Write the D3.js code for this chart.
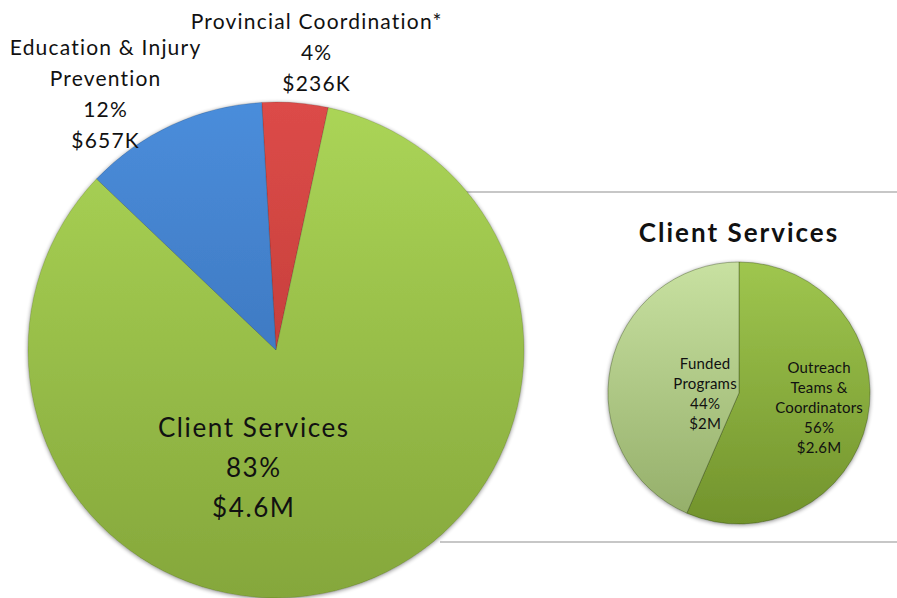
<!DOCTYPE html>
<html>
<head>
<meta charset="utf-8">
<script src="https://cdn.jsdelivr.net/npm/d3@7/dist/d3.min.js"></script>
<style>
  html, body { margin: 0; padding: 0; background: #fff; }
  svg { display: block; font-family: Lato, "Open Sans", sans-serif; }
</style>
</head>
<body>
<svg id="chart" width="897" height="598"></svg>
<script>
// Budget breakdown (values in $K)
const mainCategories = ["Provincial Coordination*", "Client Services", "Education & Injury Prevention"];
const mainValues = [236, 4600, 657];
const mainPercents = ["4%", "83%", "12%"];
const mainAmounts = ["$236K", "$4.6M", "$657K"];

// Client Services detail (values in $M)
const subCategories = ["Outreach Teams & Coordinators", "Funded Programs"];
const subValues = [2.6, 2.0];
const subPercents = ["56%", "44%"];
const subAmounts = ["$2.6M", "$2M"];

const svg = d3.select("#chart");
const defs = svg.append("defs");

// vertical shading for each slice colour
function grad(id, top, bottom, y0, y1) {
  const g = defs.append("linearGradient").attr("id", id)
    .attr("gradientUnits", "userSpaceOnUse")
    .attr("x1", 0).attr("x2", 0).attr("y1", y0).attr("y2", y1);
  g.append("stop").attr("offset", "0%").attr("stop-color", top);
  g.append("stop").attr("offset", "100%").attr("stop-color", bottom);
}

const main = { cx: 276, cy: 350, r: 248 };
const sub = { cx: 739, cy: 393, r: 131 };

grad("gRed", "#dc4b48", "#b33532", -main.r, main.r);
grad("gGreen", "#abd557", "#85a73b", -main.r, main.r);
grad("gBlue", "#4a8ddb", "#3568ab", -main.r, main.r);
grad("gOut", "#9fc64f", "#72932c", -sub.r, sub.r);
grad("gFund", "#c8e1a1", "#93ad68", -sub.r, sub.r);

// soft shadow around the discs
const f = defs.append("filter").attr("id", "shadow")
  .attr("x", "-10%").attr("y", "-10%").attr("width", "120%").attr("height", "120%");
f.append("feGaussianBlur").attr("in", "SourceAlpha").attr("stdDeviation", 2).attr("result", "b");
f.append("feOffset").attr("in", "b").attr("dx", 0).attr("dy", 1).attr("result", "o");
f.append("feComponentTransfer").attr("in", "o").attr("result", "s")
  .append("feFuncA").attr("type", "linear").attr("slope", 0.45);
const fm = f.append("feMerge");
fm.append("feMergeNode").attr("in", "s");
fm.append("feMergeNode").attr("in", "SourceGraphic");

// connector lines toward the detail pie
const lineScale = d3.scaleLinear().domain([0, 1]).range([440, 897]);
[192, 542].forEach(y => {
  svg.append("line")
    .attr("x1", lineScale(0)).attr("x2", lineScale(1))
    .attr("y1", y).attr("y2", y)
    .attr("stroke", "#8f8f8f").attr("stroke-width", 1.2);
});

const deg = Math.PI / 180;

// main pie
const mainFills = ["url(#gRed)", "url(#gGreen)", "url(#gBlue)"];
const mainPie = d3.pie().sort(null).value(d => d)
  .startAngle(-3.3 * deg).endAngle(356.7 * deg);
const mainArcs = mainPie(mainValues);
const mainArc = d3.arc().innerRadius(0).outerRadius(main.r);

const gMain = svg.append("g")
  .attr("transform", `translate(${main.cx},${main.cy})`)
  .attr("filter", "url(#shadow)");
gMain.selectAll("path").data(mainArcs).join("path")
  .attr("d", mainArc)
  .attr("fill", (d, i) => mainFills[i])
  .attr("stroke", "rgba(0,0,0,0.18)")
  .attr("stroke-width", 0.8);

// multi-line centred label
function label(x, y, lines, size, lh, ls, weight) {
  const t = svg.append("text")
    .attr("x", x).attr("y", y)
    .attr("text-anchor", "middle")
    .attr("font-size", size)
    .attr("letter-spacing", ls)
    .attr("font-weight", weight || "normal")
    .attr("fill", "#111");
  lines.forEach((s, i) => {
    t.append("tspan").attr("x", x + ls / 2).attr("dy", i === 0 ? 0 : lh).text(s);
  });
}

label(316, 29, [mainCategories[0], mainPercents[0], mainAmounts[0]], 21, 31, 1.2);
label(105, 55, ["Education & Injury", "Prevention", mainPercents[2], mainAmounts[2]], 21, 31, 1.2);
label(253, 437, [mainCategories[1], mainPercents[1], mainAmounts[1]], 26, 40, 1.6);

// detail pie
label(738, 242, ["Client Services"], 26, 0, 2, "bold");

const subFills = ["url(#gOut)", "url(#gFund)"];
const subPie = d3.pie().sort(null).value(d => d);
const subArcs = subPie(subValues);
const subArc = d3.arc().innerRadius(0).outerRadius(sub.r);

const gSub = svg.append("g")
  .attr("transform", `translate(${sub.cx},${sub.cy})`)
  .attr("filter", "url(#shadow)");
gSub.selectAll("path").data(subArcs).join("path")
  .attr("d", subArc)
  .attr("fill", (d, i) => subFills[i])
  .attr("stroke", "rgba(40,60,10,0.45)")
  .attr("stroke-width", 0.8);

label(705, 369, ["Funded", "Programs", subPercents[1], subAmounts[1]], 15, 20, 0.2);
label(819, 373, ["Outreach", "Teams &", "Coordinators", subPercents[0], subAmounts[0]], 15, 20, 0.2);
</script>
</body>
</html>
